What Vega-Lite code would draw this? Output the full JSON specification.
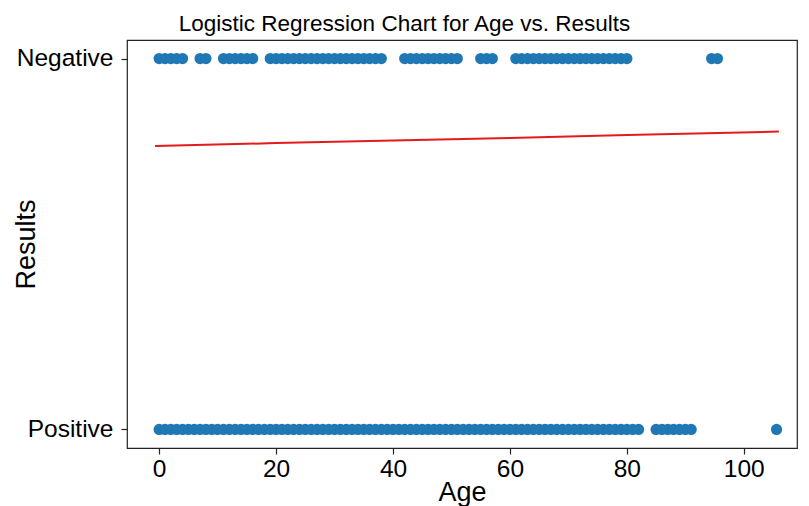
{
  "$schema": "https://vega.github.io/schema/vega-lite/v6.json",
  "autosize": "none",
  "width": 670,
  "height": 408,
  "padding": {"left": 127, "top": 40, "right": 12, "bottom": 58},
  "background": "white",
  "config": {
    "view": {"stroke": "#222222", "strokeWidth": 1.2},
    "axis": {"grid": false, "domain": false, "tickColor": "#222222", "tickSize": 6, "tickWidth": 1.2, "labelColor": "black", "titleColor": "black", "labelFont": "Liberation Sans", "titleFont": "Liberation Sans", "labelFontSize": 24.5, "titleFontSize": 27, "titleFontWeight": "normal"}
  },
  "title": {"text": "Logistic Regression Chart for Age vs. Results", "font": "Liberation Sans", "fontSize": 22.5, "fontWeight": "normal", "color": "black", "anchor": "middle", "frame": "bounds", "offset": 5},
  "datasets": {
    "points": [
      {"Age": 0, "Results": 1}, {"Age": 1, "Results": 1}, {"Age": 2, "Results": 1}, {"Age": 3, "Results": 1}, {"Age": 4, "Results": 1},
      {"Age": 7, "Results": 1}, {"Age": 8, "Results": 1},
      {"Age": 11, "Results": 1}, {"Age": 12, "Results": 1}, {"Age": 13, "Results": 1}, {"Age": 14, "Results": 1}, {"Age": 15, "Results": 1}, {"Age": 16, "Results": 1},
      {"Age": 19, "Results": 1}, {"Age": 20, "Results": 1}, {"Age": 21, "Results": 1}, {"Age": 22, "Results": 1}, {"Age": 23, "Results": 1}, {"Age": 24, "Results": 1}, {"Age": 25, "Results": 1}, {"Age": 26, "Results": 1}, {"Age": 27, "Results": 1}, {"Age": 28, "Results": 1}, {"Age": 29, "Results": 1}, {"Age": 30, "Results": 1}, {"Age": 31, "Results": 1}, {"Age": 32, "Results": 1}, {"Age": 33, "Results": 1}, {"Age": 34, "Results": 1}, {"Age": 35, "Results": 1}, {"Age": 36, "Results": 1}, {"Age": 37, "Results": 1}, {"Age": 38, "Results": 1},
      {"Age": 42, "Results": 1}, {"Age": 43, "Results": 1}, {"Age": 44, "Results": 1}, {"Age": 45, "Results": 1}, {"Age": 46, "Results": 1}, {"Age": 47, "Results": 1}, {"Age": 48, "Results": 1}, {"Age": 49, "Results": 1}, {"Age": 50, "Results": 1}, {"Age": 51, "Results": 1},
      {"Age": 55, "Results": 1}, {"Age": 56, "Results": 1}, {"Age": 57, "Results": 1},
      {"Age": 61, "Results": 1}, {"Age": 62, "Results": 1}, {"Age": 63, "Results": 1}, {"Age": 64, "Results": 1}, {"Age": 65, "Results": 1}, {"Age": 66, "Results": 1}, {"Age": 67, "Results": 1}, {"Age": 68, "Results": 1}, {"Age": 69, "Results": 1}, {"Age": 70, "Results": 1}, {"Age": 71, "Results": 1}, {"Age": 72, "Results": 1}, {"Age": 73, "Results": 1}, {"Age": 74, "Results": 1}, {"Age": 75, "Results": 1}, {"Age": 76, "Results": 1}, {"Age": 77, "Results": 1}, {"Age": 78, "Results": 1}, {"Age": 79, "Results": 1}, {"Age": 80, "Results": 1},
      {"Age": 94.5, "Results": 1}, {"Age": 95.5, "Results": 1},
      {"Age": 0, "Results": 0}, {"Age": 1, "Results": 0}, {"Age": 2, "Results": 0}, {"Age": 3, "Results": 0}, {"Age": 4, "Results": 0}, {"Age": 5, "Results": 0}, {"Age": 6, "Results": 0}, {"Age": 7, "Results": 0}, {"Age": 8, "Results": 0}, {"Age": 9, "Results": 0},
      {"Age": 10, "Results": 0}, {"Age": 11, "Results": 0}, {"Age": 12, "Results": 0}, {"Age": 13, "Results": 0}, {"Age": 14, "Results": 0}, {"Age": 15, "Results": 0}, {"Age": 16, "Results": 0}, {"Age": 17, "Results": 0}, {"Age": 18, "Results": 0}, {"Age": 19, "Results": 0},
      {"Age": 20, "Results": 0}, {"Age": 21, "Results": 0}, {"Age": 22, "Results": 0}, {"Age": 23, "Results": 0}, {"Age": 24, "Results": 0}, {"Age": 25, "Results": 0}, {"Age": 26, "Results": 0}, {"Age": 27, "Results": 0}, {"Age": 28, "Results": 0}, {"Age": 29, "Results": 0},
      {"Age": 30, "Results": 0}, {"Age": 31, "Results": 0}, {"Age": 32, "Results": 0}, {"Age": 33, "Results": 0}, {"Age": 34, "Results": 0}, {"Age": 35, "Results": 0}, {"Age": 36, "Results": 0}, {"Age": 37, "Results": 0}, {"Age": 38, "Results": 0}, {"Age": 39, "Results": 0},
      {"Age": 40, "Results": 0}, {"Age": 41, "Results": 0}, {"Age": 42, "Results": 0}, {"Age": 43, "Results": 0}, {"Age": 44, "Results": 0}, {"Age": 45, "Results": 0}, {"Age": 46, "Results": 0}, {"Age": 47, "Results": 0}, {"Age": 48, "Results": 0}, {"Age": 49, "Results": 0},
      {"Age": 50, "Results": 0}, {"Age": 51, "Results": 0}, {"Age": 52, "Results": 0}, {"Age": 53, "Results": 0}, {"Age": 54, "Results": 0}, {"Age": 55, "Results": 0}, {"Age": 56, "Results": 0}, {"Age": 57, "Results": 0}, {"Age": 58, "Results": 0}, {"Age": 59, "Results": 0},
      {"Age": 60, "Results": 0}, {"Age": 61, "Results": 0}, {"Age": 62, "Results": 0}, {"Age": 63, "Results": 0}, {"Age": 64, "Results": 0}, {"Age": 65, "Results": 0}, {"Age": 66, "Results": 0}, {"Age": 67, "Results": 0}, {"Age": 68, "Results": 0}, {"Age": 69, "Results": 0},
      {"Age": 70, "Results": 0}, {"Age": 71, "Results": 0}, {"Age": 72, "Results": 0}, {"Age": 73, "Results": 0}, {"Age": 74, "Results": 0}, {"Age": 75, "Results": 0}, {"Age": 76, "Results": 0}, {"Age": 77, "Results": 0}, {"Age": 78, "Results": 0}, {"Age": 79, "Results": 0},
      {"Age": 80, "Results": 0}, {"Age": 81, "Results": 0}, {"Age": 82, "Results": 0},
      {"Age": 85, "Results": 0}, {"Age": 86, "Results": 0}, {"Age": 87, "Results": 0}, {"Age": 88, "Results": 0}, {"Age": 89, "Results": 0}, {"Age": 90, "Results": 0}, {"Age": 91, "Results": 0},
      {"Age": 105.6, "Results": 0}
    ],
    "curve": [
      {"Age": -0.7, "Probability": 0.764},
      {"Age": 20, "Probability": 0.772},
      {"Age": 40, "Probability": 0.779},
      {"Age": 60, "Probability": 0.786},
      {"Age": 80, "Probability": 0.794},
      {"Age": 106, "Probability": 0.803}
    ]
  },
  "layer": [
    {
      "data": {"name": "points"},
      "mark": {"type": "point", "shape": "circle", "filled": true, "size": 125, "color": "#1f77b4", "opacity": 1},
      "encoding": {
        "x": {"field": "Age", "type": "quantitative", "scale": {"domain": [-5.5, 109.1], "nice": false, "zero": false}, "axis": {"values": [0, 20, 40, 60, 80, 100], "title": "Age", "labelPadding": 3, "titlePadding": -1}},
        "y": {"field": "Results", "type": "quantitative", "scale": {"domain": [-0.05, 1.05], "nice": false, "zero": false}, "axis": {"values": [0, 1], "labelExpr": "datum.value == 1 ? 'Negative' : 'Positive'", "title": "Results", "labelPadding": 8, "titleX": -101, "titleY": 204, "titleBaseline": "middle", "titleAlign": "center", "titleAngle": -90}}
      }
    },
    {
      "data": {"name": "curve"},
      "mark": {"type": "line", "color": "#e41a1c", "strokeWidth": 2},
      "encoding": {
        "x": {"field": "Age", "type": "quantitative"},
        "y": {"field": "Probability", "type": "quantitative"}
      }
    }
  ]
}
